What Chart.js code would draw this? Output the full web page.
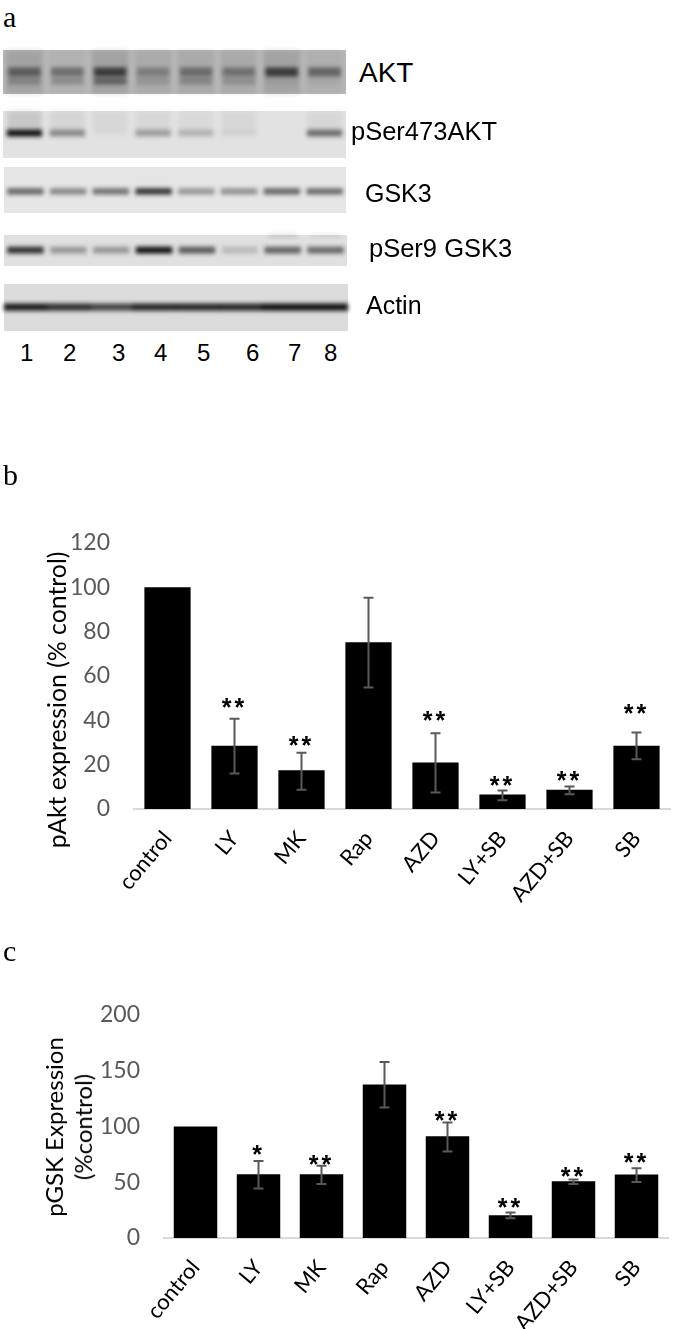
<!DOCTYPE html>
<html>
<head>
<meta charset="utf-8">
<script src="https://cdn.jsdelivr.net/npm/chart.js@4"></script>
<style>
html, body { margin: 0; padding: 0; background: #fff; }
#page { position: relative; width: 675px; height: 1329px; overflow: hidden; }
#page canvas { position: absolute; }
.blot { filter: blur(2px); }
.txt { position: absolute; white-space: nowrap; color: #000; line-height: 1; }
.letter { font: 30px "Liberation Serif", serif; }
.sans { font-family: "Liberation Sans", Arial, sans-serif; }
.ytitle { font-family: Lato, sans-serif; transform: translate(-50%, -50%) rotate(-90deg); }
</style>
</head>
<body>
<div id="page"></div>
<script>
// panel b and c data
const categories = ['control', 'LY', 'MK', 'Rap', 'AZD', 'LY+SB', 'AZD+SB', 'SB'];

const pAktTicks = [0, 20, 40, 60, 80, 100, 120];
const pAktValues = [100, 28.5, 17.5, 75.2, 21, 6.5, 8.7, 28.5];
const pAktErrLow = [null, 16, 8.7, 54.8, 7.4, 3.9, 6.6, 22.4];
const pAktErrHigh = [null, 40.7, 25.4, 95.3, 34.2, 8.4, 10.2, 34.5];
const pAktStars = ['', '**', '**', '', '**', '**', '**', '**'];
const pAktStarLevels = [null, 47.1, 30, null, 41.6, 12.2, 14.4, 44.7];

const pGskTicks = [0, 50, 100, 150, 200];
const pGskValues = [100, 57.2, 57.2, 137.7, 91.3, 20.4, 50.9, 56.9];
const pGskErrLow = [null, 44.3, 48.5, 117, 77.5, 17.7, 48.5, 50.3];
const pGskErrHigh = [null, 69, 64.7, 157.8, 103.6, 22.8, 52.4, 62.6];
const pGskStars = ['', '*', '**', '', '**', '**', '**', '**'];
const pGskStarLevels = [null, 78, 69, null, 108.7, 30, 57.8, 70.4];

// panel a: band strength per lane, 0 to 1
const lanes = ['1', '2', '3', '4', '5', '6', '7', '8'];
const aktUpper = [0.5, 0.42, 0.72, 0.3, 0.42, 0.38, 0.72, 0.48];
const aktLower = [0.25, 0.25, 0.5, 0.16, 0.28, 0.2, 0.06, 0.06];
const aktSmear = [0.12, 0.03, 0.12, 0.08, 0.08, 0.08, 0.12, 0.05];
const ser473Band = [1, 0.4, 0, 0.3, 0.2, 0.04, 0, 0.55];
const ser473Smear = [0.12, 0.06, 0.05, 0.05, 0.04, 0.05, 0, 0.05];
const gskBand = [0.6, 0.45, 0.55, 0.85, 0.38, 0.4, 0.6, 0.58];
const ser9Band = [0.85, 0.35, 0.35, 1, 0.65, 0.18, 0.6, 0.58];
const ser9TopBand = [0, 0, 0, 0, 0, 0, 0.3, 0.2];
const actinBand = [0.95, 0.85, 0.75, 0.9, 0.9, 0.9, 1, 1];

const page = document.getElementById('page');

function addText(text, cls, left, top, extra) {
    let el = document.createElement('div');
    el.className = 'txt ' + cls;
    el.textContent = text;
    el.style.left = left + 'px';
    el.style.top = top + 'px';
    if (extra) Object.assign(el.style, extra);
    page.appendChild(el);
}

function addCanvas(left, top, width, height, cls) {
    let canvas = document.createElement('canvas');
    canvas.style.left = left + 'px';
    canvas.style.top = top + 'px';
    canvas.style.width = width + 'px';
    canvas.style.height = height + 'px';
    if (cls) canvas.className = cls;
    page.appendChild(canvas);
    return canvas;
}

// draws error bars and significance stars from the chart's own scales
const errorBarsPlugin = {
    id: 'errorBars',
    afterDatasetsDraw(chart, args, opts) {
        let ctx = chart.ctx, x = chart.scales.x, y = chart.scales.y;
        ctx.save();
        ctx.strokeStyle = '#595959';
        ctx.lineWidth = 2;
        opts.low.forEach((low, i) => {
            if (low === null) return;
            let px = x.getPixelForValue(i);
            let top = y.getPixelForValue(opts.high[i]);
            let bottom = y.getPixelForValue(low);
            ctx.beginPath();
            ctx.moveTo(px, top);
            ctx.lineTo(px, bottom);
            ctx.moveTo(px - 5, top);
            ctx.lineTo(px + 5, top);
            ctx.moveTo(px - 5, bottom);
            ctx.lineTo(px + 5, bottom);
            ctx.stroke();
        });
        ctx.fillStyle = '#000';
        ctx.font = 'bold 25px "Liberation Sans"';
        ctx.letterSpacing = '3px';
        ctx.textAlign = 'center';
        ctx.textBaseline = 'middle';
        opts.stars.forEach((star, i) => {
            if (!star) return;
            ctx.fillText(star, x.getPixelForValue(i), y.getPixelForValue(opts.levels[i]) + 5);
        });
        ctx.restore();
    }
};

function drawBarChart(top, height, cfg) {
    let canvas = addCanvas(0, top, 675, height);
    return new Chart(canvas, {
        type: 'bar',
        data: {
            labels: categories,
            datasets: [{
                data: cfg.values,
                backgroundColor: '#000',
                categoryPercentage: 1,
                barPercentage: 0.69
            }]
        },
        plugins: [errorBarsPlugin],
        options: {
            responsive: false,
            animation: false,
            layout: { padding: { top: cfg.padTop, right: cfg.padRight, left: 0, bottom: 0 } },
            plugins: {
                legend: { display: false },
                tooltip: { enabled: false },
                errorBars: { low: cfg.low, high: cfg.high, stars: cfg.stars, levels: cfg.levels }
            },
            scales: {
                x: {
                    grid: { display: false, drawTicks: false },
                    border: { color: '#d9d9d9', width: 2 },
                    ticks: {
                        color: '#000',
                        font: { family: 'Lato', size: 22 },
                        minRotation: 50,
                        maxRotation: 50,
                        padding: 17,
                        autoSkip: false
                    },
                    afterFit(scale) { scale.height = cfg.xHeight; }
                },
                y: {
                    min: cfg.ticks[0],
                    max: cfg.ticks[cfg.ticks.length - 1],
                    grid: { display: false, drawTicks: false },
                    border: { display: false },
                    afterBuildTicks(scale) { scale.ticks = cfg.ticks.map(v => ({ value: v })); },
                    ticks: {
                        color: '#595959',
                        font: { family: 'Lato', size: 23 },
                        padding: 24
                    },
                    afterFit(scale) {
                        scale.width = cfg.yWidth;
                        scale.paddingTop = 0;
                        scale.paddingBottom = 0;
                    }
                }
            }
        }
    });
}

// one blot strip: lanes on a category scale, bands as floating bars
function drawBlot(left, top, width, height, background, bands) {
    let bg = addCanvas(left, top, width, height);
    bg.style.background = background;
    let canvas = addCanvas(left, top, width, height, 'blot');
    return new Chart(canvas, {
        type: 'bar',
        data: {
            labels: lanes,
            datasets: bands.map(b => ({
                data: b.strength.map(() => [b.from, b.to]),
                backgroundColor: b.strength.map(s => `rgba(15,15,15,${s})`),
                categoryPercentage: 1,
                barPercentage: b.width,
                grouped: false
            }))
        },
        options: {
            responsive: false,
            animation: false,
            plugins: { legend: { display: false }, tooltip: { enabled: false } },
            scales: {
                x: { display: false },
                y: { display: false, min: 0, max: 100, reverse: true }
            }
        }
    });
}

drawBlot(3, 50, 343, 44, '#b8b8b8', [
    { strength: aktSmear, from: 0, to: 100, width: 0.85 },
    { strength: aktUpper, from: 40, to: 60, width: 0.76 },
    { strength: aktLower, from: 64, to: 78, width: 0.76 }
]);
drawBlot(3, 111, 343, 47, '#e2e2e2', [
    { strength: ser473Smear, from: 0, to: 50, width: 0.8 },
    { strength: ser473Band, from: 40, to: 54, width: 0.82 }
]);
drawBlot(4, 167, 342, 46, '#e6e6e6', [
    { strength: gskBand, from: 46, to: 60, width: 0.85 }
]);
drawBlot(4, 235, 343, 31, '#e0e0e0', [
    { strength: ser9TopBand, from: 0, to: 5, width: 0.7 },
    { strength: ser9Band, from: 38, to: 60, width: 0.85 }
]);
drawBlot(4, 284, 344, 47, '#dcdcdc', [
    { strength: actinBand, from: 42, to: 56, width: 1 }
]);

drawBarChart(520, 410, {
    values: pAktValues, low: pAktErrLow, high: pAktErrHigh,
    stars: pAktStars, levels: pAktStarLevels, ticks: pAktTicks,
    padTop: 23, padRight: 5, yWidth: 134, xHeight: 121
});
drawBarChart(1000, 329, {
    values: pGskValues, low: pGskErrLow, high: pGskErrHigh,
    stars: pGskStars, levels: pGskStarLevels, ticks: pGskTicks,
    padTop: 15, padRight: 7, yWidth: 164, xHeight: 91
});

addText('a', 'letter', 3, 0);
addText('b', 'letter', 3, 458);
addText('c', 'letter', 3, 934);

addText('AKT', 'sans', 359, 59, { fontSize: '28px' });
addText('pSer473AKT', 'sans', 351, 119, { fontSize: '25.5px' });
addText('GSK3', 'sans', 365, 181, { fontSize: '25px' });
addText('pSer9 GSK3', 'sans', 369, 236, { fontSize: '25.5px' });
addText('Actin', 'sans', 366, 293, { fontSize: '25px' });

const laneLabelX = [27, 70, 119, 161, 204, 253, 295, 331];
lanes.forEach((lane, i) => {
    addText(lane, 'sans', laneLabelX[i] - 7, 341, { fontSize: '24px' });
});

addText('pAkt expression (% control)', 'ytitle', 57, 700, { fontSize: '24.8px' });
addText('pGSK Expression', 'ytitle', 54, 1127, { fontSize: '24px' });
addText('(%control)', 'ytitle', 83, 1127, { fontSize: '24px' });
</script>
</body>
</html>
